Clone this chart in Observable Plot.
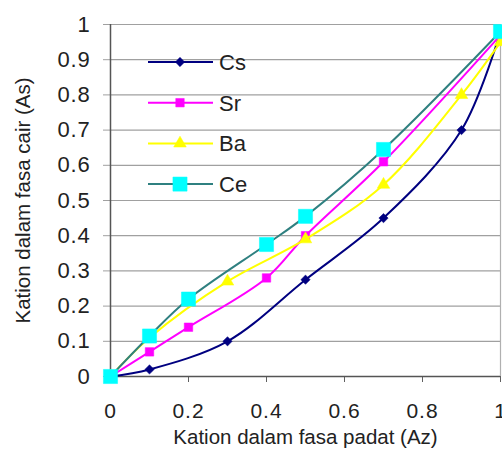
<!DOCTYPE html>
<html>
<head>
<meta charset="utf-8">
<script src="https://cdn.jsdelivr.net/npm/d3@7"></script>
<script src="https://cdn.jsdelivr.net/npm/@observablehq/plot@0.6"></script>
<style>
  html, body { margin: 0; padding: 0; background: #fff; }
  #chart { position: relative; width: 502px; height: 450px; }
  #chart g[aria-label="y-axis tick label"] text { font-size: 22px !important; letter-spacing: 0.8px; }
  #chart g[aria-label="x-axis tick label"] text { font-size: 21px !important; letter-spacing: 1px; }
  #chart g[aria-label="y-axis label"] text, #chart g[aria-label="x-axis label"] text { font-size: 20.5px !important; }
</style>
</head>
<body>
<div id="chart"></div>
<script>
const seriesNames = ["Cs", "Sr", "Ba", "Ce"];
const csX = [0, 0.1, 0.3, 0.5, 0.7, 0.9, 1];
const csY = [0, 0.02, 0.1, 0.275, 0.45, 0.7, 0.98];
const srX = [0, 0.1, 0.2, 0.4, 0.5, 0.7, 1];
const srY = [0, 0.07, 0.14, 0.28, 0.4, 0.61, 0.97];
const baX = [0, 0.1, 0.3, 0.5, 0.7, 0.9, 1];
const baY = [0, 0.11, 0.27, 0.39, 0.545, 0.8, 0.95];
const ceX = [0, 0.1, 0.2, 0.4, 0.5, 0.7, 1];
const ceY = [0, 0.115, 0.22, 0.375, 0.455, 0.645, 0.98];
const xTicks = [0, 0.2, 0.4, 0.6, 0.8, 1];
const yTicks = [0, 0.1, 0.2, 0.3, 0.4, 0.5, 0.6, 0.7, 0.8, 0.9, 1];

const styles = {
  Cs: {stroke: "#000080", fill: "#000080", symbol: "diamond2", r: 4.2},
  Sr: {stroke: "#ff00ff", fill: "#ff00ff", symbol: "square2", r: 5.4},
  Ba: {stroke: "#ffff00", fill: "#ffff00", symbol: "triangle2", r: 6},
  Ce: {stroke: "#2f8080", fill: "#00ffff", symbol: "square2", r: 9}
};
const toRows = (name, X, Y) => X.map((x, i) => ({name, x, y: Y[i]}));
const series = [
  toRows("Cs", csX, csY),
  toRows("Sr", srX, srY),
  toRows("Ba", baX, baY),
  toRows("Ce", ceX, ceY)
];
const fmt = d => d === 0 ? "0" : d === 1 ? "1" : d3.format(".1f")(d);

const marks = [
  Plot.gridY(yTicks.slice(1), {stroke: "#a0a0a0", strokeOpacity: 1, strokeWidth: 1.2}),
  Plot.ruleX([1], {stroke: "#b0b0b0", strokeWidth: 1.2}),
  Plot.axisY({ticks: yTicks, tickSize: 7, tickPadding: 13, stroke: "#a0a0a0", fill: "#222",
    tickFormat: fmt, label: "Kation dalam fasa cair (As)", labelAnchor: "center", labelArrow: "none", labelOffset: 95}),
  Plot.axisX({ticks: xTicks, tickSize: 6, tickPadding: 21, stroke: "#606060", fill: "#222",
    tickFormat: fmt, label: "Kation dalam fasa padat (Az)", labelAnchor: "center", labelArrow: "none", labelOffset: 67}),
  Plot.ruleX([0], {stroke: "#555", strokeWidth: 1.5}),
  Plot.ruleY([0], {stroke: "#555", strokeWidth: 1.5})
];
series.forEach(rows => {
  const s = styles[rows[0].name];
  marks.push(Plot.line(rows, {x: "x", y: "y", stroke: s.stroke, strokeWidth: 2, curve: "catmull-rom"}));
  marks.push(Plot.dot(rows, {x: "x", y: "y", fill: s.fill, stroke: s.fill, strokeWidth: 0.5, symbol: () => s.symbol, r: s.r}));
});

const chart = Plot.plot({
  width: 502,
  height: 450,
  marginLeft: 110,
  marginRight: 2,
  marginTop: 24,
  marginBottom: 74,
  x: {domain: [0, 1]},
  y: {domain: [0, 1]},
  style: {fontFamily: "'Liberation Sans', Arial, sans-serif", fontSize: "18px", background: "#fff", color: "#222", overflow: "hidden"},
  marks
});
document.getElementById("chart").appendChild(chart);

const svg = d3.select(chart);

// Legend (inside the plot area, upper left)
const lg = svg.append("g").attr("font-family", "'Liberation Sans', Arial, sans-serif")
  .attr("font-size", 22).attr("text-anchor", "start");
seriesNames.forEach((name, i) => {
  const s = styles[name];
  const cy = 62 + i * 40.7;
  const row = lg.append("g").attr("transform", `translate(0,${cy})`);
  row.append("line").attr("x1", 148).attr("x2", 213).attr("y1", 0).attr("y2", 0)
    .attr("stroke", s.stroke).attr("stroke-width", 2);
  const sym = {diamond2: d3.symbolDiamond2, square2: d3.symbolSquare2, triangle2: d3.symbolTriangle2}[s.symbol];
  row.append("path").attr("transform", "translate(180,0)")
    .attr("d", d3.symbol(sym, Math.PI * s.r * s.r)())
    .attr("fill", s.fill).attr("stroke", s.fill).attr("stroke-width", 0.5);
  row.append("text").attr("x", 219).attr("y", 0).attr("dy", "0.36em").attr("fill", "#222").text(name);
});
</script>
</body>
</html>
